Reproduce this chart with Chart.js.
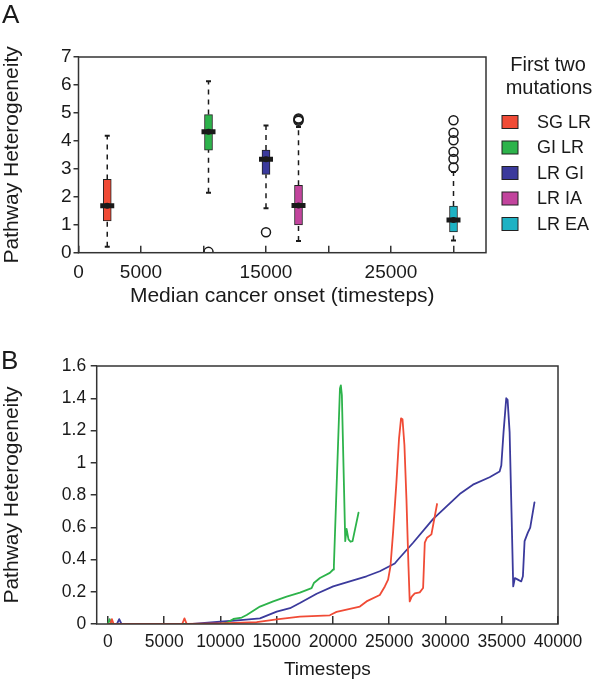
<!DOCTYPE html>
<html>
<head>
<meta charset="utf-8">
<script src="https://cdn.jsdelivr.net/npm/chart.js@4.4.1/dist/chart.umd.min.js"></script>
<style>
  body { margin: 0; background: #fff; }
  #wrap { position: relative; width: 600px; height: 681px; }
  canvas { position: absolute; left: 0; }
  .tag { position: absolute; font: 26px 'Liberation Sans', Arial, sans-serif; line-height: 26px; color: #1a1a1a; }
</style>
</head>
<body>
<div id="wrap">
  <canvas id="chartA" width="600" height="310" style="top:0"></canvas>
  <canvas id="chartB" width="600" height="371" style="top:310px"></canvas>
  <div class="tag" style="left:2px;top:1px">A</div>
  <div class="tag" style="left:1px;top:347px">B</div>
</div>
<script>
Chart.defaults.font.family = "'Liberation Sans', Arial, sans-serif";
Chart.defaults.color = '#1a1a1a';

// panel A: box plots per first-two-mutation group
var groups = ['SG LR', 'GI LR', 'LR GI', 'LR IA', 'LR EA'];
var groupColors = ['#f04b36', '#2db34b', '#3b3a9c', '#c2449d', '#1eb2c4'];
var onset = [2300, 10400, 15000, 17600, 30000];
var whiskerLow = [0.21, 2.14, 1.59, 0.42, 0.44];
var q1 = [1.14, 3.67, 2.80, 0.99, 0.74];
var median = [1.68, 4.33, 3.34, 1.69, 1.17];
var q3 = [2.62, 4.94, 3.67, 2.41, 1.67];
var whiskerHigh = [4.18, 6.13, 4.55, 4.50, 2.89];
var outliers = [[], [0.03], [0.73], [4.72, 4.76, 4.80], [3.05, 3.35, 3.61, 4.02, 4.29, 4.74]];
var xTicksA = [0, 5000, 10000, 15000, 20000, 25000, 30000];
var xLabelsA = [0, 5000, 15000, 25000];

// panel B: heterogeneity over time
var sglrTime = [0, 200, 350, 500, 6600, 6800, 7000, 9970, 13220, 15000, 17060, 19720, 20020, 20320, 22390, 22980, 24160, 24610, 24900, 25110, 25340, 25640, 25870, 26050, 26180, 26350, 26530, 26710, 26820, 27000, 27270, 27710, 28010, 28160, 28360, 28750, 29250];
var sglrHet = [0, 0, 0.03, 0, 0, 0.035, 0, 0.004, 0.011, 0.029, 0.046, 0.054, 0.065, 0.075, 0.108, 0.14, 0.18, 0.233, 0.275, 0.358, 0.567, 0.88, 1.15, 1.275, 1.27, 1.11, 0.775, 0.358, 0.14, 0.17, 0.19, 0.196, 0.223, 0.504, 0.535, 0.556, 0.744];
var gilrTime = [0, 150, 300, 10000, 10560, 11150, 11890, 12330, 13510, 14690, 15880, 17060, 18100, 18300, 18840, 19720, 20020, 20080, 20620, 20700, 20790, 21090, 21210, 21380, 21560, 21740, 22270];
var gilrHet = [0, 0.03, 0, 0, 0.008, 0.031, 0.04, 0.056, 0.108, 0.14, 0.17, 0.195, 0.223, 0.254, 0.285, 0.317, 0.338, 0.36, 1.46, 1.48, 1.42, 0.514, 0.59, 0.525, 0.51, 0.514, 0.69];
var lrgiTime = [0, 800, 1000, 1200, 7500, 9970, 12030, 13510, 15000, 16180, 17060, 18550, 20020, 22980, 24160, 25490, 25790, 27120, 28890, 31260, 32440, 33920, 34810, 34960, 35160, 35400, 35520, 35700, 35870, 36020, 36170, 36430, 36730, 36880, 37030, 37320, 37530, 37910];
var lrgiHet = [0, 0, 0.03, 0, 0, 0.014, 0.025, 0.035, 0.077, 0.098, 0.13, 0.1875, 0.233, 0.296, 0.327, 0.375, 0.40, 0.504, 0.65, 0.806, 0.864, 0.91, 0.946, 0.983, 1.19, 1.40, 1.39, 1.19, 0.69, 0.233, 0.285, 0.275, 0.264, 0.296, 0.514, 0.567, 0.598, 0.754];
var xTicksB = [0, 5000, 10000, 15000, 20000, 25000, 30000, 35000, 40000];

function pairs(xs, ys) {
    return xs.map(function (x, i) { return { x: x, y: ys[i] }; });
}

var framePlugin = {
    id: 'frame',
    afterDraw: function (chart) {
        var a = chart.chartArea, ctx = chart.ctx;
        ctx.save();
        ctx.strokeStyle = '#333';
        ctx.lineWidth = 1.5;
        ctx.strokeRect(a.left, a.top, a.right - a.left, a.bottom - a.top);
        ctx.restore();
    }
};

var boxLegend = {
    id: 'boxLegend',
    afterDraw: function (chart) {
        var ctx = chart.ctx;
        ctx.save();
        ctx.fillStyle = '#1a1a1a';
        ctx.textAlign = 'center';
        ctx.textBaseline = 'middle';
        ctx.font = "20px 'Liberation Sans', Arial, sans-serif";
        ctx.fillText('First two', 548, 65);
        ctx.fillText('mutations', 549, 88);
        ctx.font = "18px 'Liberation Sans', Arial, sans-serif";
        ctx.textAlign = 'left';
        for (var i = 0; i < groups.length; i++) {
            var y = 122 + i * 25.5;
            ctx.fillStyle = groupColors[i];
            ctx.fillRect(502, y - 6.5, 16, 13);
            ctx.strokeStyle = '#222';
            ctx.lineWidth = 1;
            ctx.strokeRect(502, y - 6.5, 16, 13);
            ctx.fillStyle = '#1a1a1a';
            ctx.fillText(groups[i], 537, y + 1);
        }
        ctx.restore();
    }
};

// build box plot pieces
var boxSets = groups.map(function (g, i) {
    return {
        type: 'bar',
        label: g,
        data: [{ x: onset[i], y: [q1[i], q3[i]] }],
        backgroundColor: groupColors[i],
        borderColor: '#222',
        borderWidth: 1,
        borderSkipped: false,
        barThickness: 8,
        grouped: false
    };
});

var whiskerPts = [];
var capPts = [];
var medianPts = [];
var outlierPts = [];
for (var i = 0; i < groups.length; i++) {
    whiskerPts.push({ x: onset[i], y: whiskerLow[i] }, { x: onset[i], y: q1[i] }, { x: onset[i], y: null });
    whiskerPts.push({ x: onset[i], y: q3[i] }, { x: onset[i], y: whiskerHigh[i] }, { x: onset[i], y: null });
    capPts.push({ x: onset[i], y: whiskerLow[i] }, { x: onset[i], y: whiskerHigh[i] });
    medianPts.push({ x: onset[i], y: median[i] });
    outliers[i].forEach(function (v) { outlierPts.push({ x: onset[i], y: v }); });
}

new Chart(document.getElementById('chartA'), {
    type: 'bar',
    data: {
        datasets: [
            { type: 'scatter', data: medianPts, pointStyle: 'circle', pointRadius: 3, borderWidth: 0, backgroundColor: '#1a1a1a' },
            { type: 'scatter', data: medianPts, pointStyle: 'line', pointRadius: 7, borderWidth: 5, borderColor: '#1a1a1a' },
            { type: 'scatter', data: outlierPts, pointStyle: 'circle', pointRadius: 4.5, borderWidth: 1.5, borderColor: '#1a1a1a', backgroundColor: 'rgba(255,255,255,0)' },
            { type: 'scatter', data: capPts, pointStyle: 'line', pointRadius: 2.5, borderWidth: 2, borderColor: '#1a1a1a' },
            { type: 'line', data: whiskerPts, borderColor: '#1a1a1a', borderWidth: 1.5, borderDash: [5, 5], pointRadius: 0, spanGaps: false }
        ].concat(boxSets)
    },
    options: {
        responsive: false,
        animation: false,
        events: [],
        layout: { padding: { left: 0, top: 57, right: 114, bottom: 0 } },
        plugins: { legend: { display: false }, tooltip: { enabled: false } },
        scales: {
            x: {
                type: 'linear',
                min: 0,
                max: 32600,
                offset: false,
                afterFit: function (s) { s.height = 57.3; },
                afterBuildTicks: function (s) { s.ticks = xTicksA.map(function (v) { return { value: v }; }); },
                ticks: {
                    font: { size: 19 },
                    padding: 16,
                    maxRotation: 0,
                    autoSkip: false,
                    callback: function (v) { return xLabelsA.indexOf(v) >= 0 ? String(v) : ''; }
                },
                grid: { offset: false, drawOnChartArea: false, tickLength: -7, color: '#333', lineWidth: 1.5 },
                border: { display: false },
                title: { display: true, text: 'Median cancer onset (timesteps)', font: { size: 21 }, padding: { top: 0, bottom: 1 } }
            },
            y: {
                min: 0,
                max: 7,
                afterFit: function (s) { s.width = 78.5; },
                ticks: { stepSize: 1, font: { size: 19 }, padding: 2 },
                grid: { drawOnChartArea: false, tickLength: 5, color: '#333', lineWidth: 1.5 },
                border: { display: false },
                title: { display: true, text: 'Pathway Heterogeneity', font: { size: 21 }, padding: 0 }
            }
        }
    },
    plugins: [framePlugin, boxLegend]
});

new Chart(document.getElementById('chartB'), {
    type: 'scatter',
    data: {
        datasets: [
            { label: 'SG LR', data: pairs(sglrTime, sglrHet), borderColor: groupColors[0] },
            { label: 'GI LR', data: pairs(gilrTime, gilrHet), borderColor: groupColors[1] },
            { label: 'LR GI', data: pairs(lrgiTime, lrgiHet), borderColor: groupColors[2] }
        ].map(function (d) {
            d.showLine = true;
            d.pointRadius = 0;
            d.borderWidth = 1.8;
            d.borderJoinStyle = 'round';
            d.borderCapStyle = 'round';
            return d;
        })
    },
    options: {
        responsive: false,
        animation: false,
        events: [],
        layout: { padding: { left: 0, top: 56, right: 42, bottom: 0 } },
        plugins: { legend: { display: false }, tooltip: { enabled: false } },
        scales: {
            x: {
                type: 'linear',
                min: -1000,
                max: 40000,
                afterFit: function (s) { s.height = 57; },
                afterBuildTicks: function (s) { s.ticks = xTicksB.map(function (v) { return { value: v }; }); },
                ticks: { font: { size: 17.5 }, padding: 15.5, maxRotation: 0, autoSkip: false, callback: function (v) { return String(v); } },
                grid: { drawOnChartArea: false, tickLength: -8, color: '#333', lineWidth: 1.5 },
                border: { display: false },
                title: { display: true, text: 'Timesteps', font: { size: 19 }, padding: 0 }
            },
            y: {
                min: 0,
                max: 1.6,
                afterFit: function (s) { s.width = 96.7; },
                ticks: { stepSize: 0.2, font: { size: 17.5 }, padding: 4.5, callback: function (v) { return String(Number(v.toFixed(1))); } },
                grid: { drawOnChartArea: false, tickLength: 6, color: '#333', lineWidth: 1.5 },
                border: { display: false },
                title: { display: true, text: 'Pathway Heterogeneity', font: { size: 21 }, padding: 0 }
            }
        }
    },
    plugins: [framePlugin]
});
</script>
</body>
</html>
